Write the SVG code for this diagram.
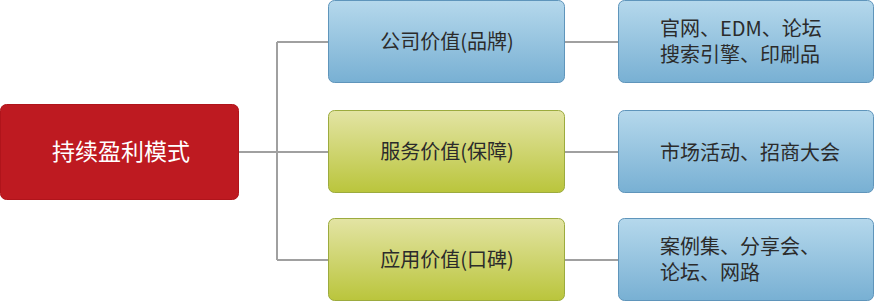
<svg xmlns="http://www.w3.org/2000/svg" width="874" height="302" viewBox="0 0 874 302">
<defs>
<linearGradient id="gBlue" x1="0" y1="0" x2="0" y2="1"><stop offset="0" stop-color="#B5D8EC"/><stop offset="1" stop-color="#78B0D3"/></linearGradient>
<linearGradient id="gGreen" x1="0" y1="0" x2="0" y2="1"><stop offset="0" stop-color="#E3E4A4"/><stop offset="1" stop-color="#BAC53C"/></linearGradient>
<style>
.t{font-family:"Noto Sans CJK SC","Microsoft YaHei",sans-serif;font-size:20px;fill:#2b2b2b}
.c{text-anchor:middle}
.blue{fill:url(#gBlue);stroke:#5F95BB;stroke-width:1}
.green{fill:url(#gGreen);stroke:#9CAB3E;stroke-width:1}
.conn{fill:none;stroke:#A0A0A0;stroke-width:2}
</style>
</defs>
<g id="connectors">
<path class="conn" d="M239 152 H277 M277 42 V260 M277 42 H328 M277 152 H328 M277 260 H328"/>
<path class="conn" d="M564 42 H618 M564 152 H618 M564 260 H618"/>
</g>
<g id="root">
<rect x="0.5" y="104.5" width="238" height="95" rx="6" fill="#BE1A21" stroke="#B0141B"/>
<text class="t c" x="121" y="160" style="font-size:23px;fill:#fff">持续盈利模式</text>
</g>
<g id="n1">
<rect class="blue" x="328.5" y="0.5" width="236" height="82" rx="6"/>
<text class="t c" x="447" y="49">公司价值(品牌)</text>
</g>
<g id="n2">
<rect class="green" x="328.5" y="110.5" width="236" height="82" rx="6"/>
<text class="t c" x="447" y="159">服务价值(保障)</text>
</g>
<g id="n3">
<rect class="green" x="328.5" y="218.5" width="236" height="82" rx="6"/>
<text class="t c" x="447" y="267">应用价值(口碑)</text>
</g>
<g id="r1">
<rect class="blue" x="618.5" y="0.5" width="255" height="82" rx="6"/>
<text class="t" x="660" y="36">官网、EDM、论坛</text>
<text class="t" x="660" y="62">搜索引擎、印刷品</text>
</g>
<g id="r2">
<rect class="blue" x="618.5" y="110.5" width="255" height="82" rx="6"/>
<text class="t" x="660" y="160">市场活动、招商大会</text>
</g>
<g id="r3">
<rect class="blue" x="618.5" y="218.5" width="255" height="82" rx="6"/>
<text class="t" x="660" y="254">案例集、分享会、</text>
<text class="t" x="660" y="280">论坛、网路</text>
</g>
</svg>
